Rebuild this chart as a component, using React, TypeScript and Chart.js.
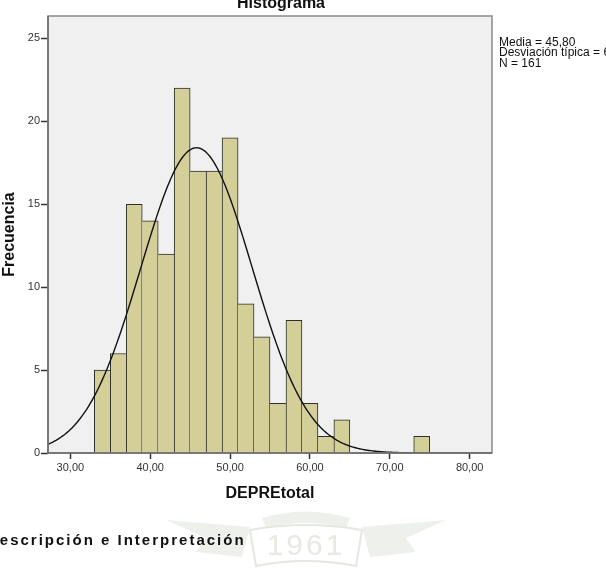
import React, { useEffect, useRef } from "react";
import { Chart, registerables } from "chart.js";

Chart.register(...registerables);

// Histogram of DEPREtotal: bin starts (width 2) and their frequencies
const BIN_STARTS = [33, 35, 37, 39, 41, 43, 45, 47, 49, 51, 53, 55, 57, 59, 61, 63, 73];
const BIN_COUNTS = [5, 6, 15, 14, 12, 22, 17, 17, 19, 9, 7, 3, 8, 3, 1, 2, 1];
const BIN_WIDTH = 2;

// Axis ticks
const X_TICKS = [30, 40, 50, 60, 70, 80];
const Y_TICKS = [0, 5, 10, 15, 20, 25];

// Summary statistics used for the fitted normal curve
const MEAN = 45.8;
const STD_DEV = 6.98;
const N_CASES = 161;
const STATS_LINES = ["Media = 45,80", "Desviación típica = 6,98", "N = 161"];

const TITLE = "Histograma";
const X_TITLE = "DEPREtotal";
const Y_TITLE = "Frecuencia";
const FOOTER_TEXT = "Descripción e Interpretación";
const SEAL_YEAR = "1961";

const FONT = 'Arial, "Liberation Sans", sans-serif';
const X_MIN = 27.2;
const X_MAX = 82.8;
const Y_MAX = 26.35;

const BAR_FILL = "#d4cf98";
const BAR_EDGE = "#2e2e2a";
const PLOT_BG = "#f0f0f0";

function normalCurve(): { x: number; y: number }[] {
  const pts: { x: number; y: number }[] = [];
  const scale = (N_CASES * BIN_WIDTH) / (STD_DEV * Math.sqrt(2 * Math.PI));
  for (let x = X_MIN; x <= X_MAX + 1e-9; x += 0.2) {
    const z = (x - MEAN) / STD_DEV;
    pts.push({ x, y: scale * Math.exp(-0.5 * z * z) });
  }
  return pts;
}

function drawSeal(ctx: CanvasRenderingContext2D) {
  ctx.save();
  ctx.fillStyle = "#eef1eb";
  // ribbon wings
  ctx.beginPath();
  ctx.moveTo(166, 520);
  ctx.lineTo(250, 527);
  ctx.lineTo(242, 557);
  ctx.lineTo(196, 552);
  ctx.lineTo(206, 538);
  ctx.closePath();
  ctx.fill();
  ctx.beginPath();
  ctx.moveTo(446, 520);
  ctx.lineTo(362, 527);
  ctx.lineTo(370, 557);
  ctx.lineTo(416, 552);
  ctx.lineTo(406, 538);
  ctx.closePath();
  ctx.fill();
  // upper arc
  ctx.beginPath();
  ctx.moveTo(262, 518);
  ctx.quadraticCurveTo(306, 505, 350, 518);
  ctx.lineTo(346, 528);
  ctx.quadraticCurveTo(306, 518, 266, 528);
  ctx.closePath();
  ctx.fill();
  // central band
  ctx.strokeStyle = "#e4e8e0";
  ctx.lineWidth = 2;
  ctx.beginPath();
  ctx.moveTo(250, 530);
  ctx.quadraticCurveTo(306, 520, 362, 530);
  ctx.lineTo(356, 566);
  ctx.quadraticCurveTo(306, 556, 256, 566);
  ctx.closePath();
  ctx.stroke();
  ctx.font = `30px ${FONT}`;
  ctx.textAlign = "center";
  ctx.textBaseline = "middle";
  ctx.fillStyle = "#e6eae2";
  (ctx as any).letterSpacing = "3px";
  ctx.fillText(SEAL_YEAR, 306, 547);
  ctx.restore();
}

const decorPlugin = {
  id: "decor",
  beforeDraw(chart: Chart) {
    const { ctx, chartArea: a, width, height } = chart;
    ctx.save();
    ctx.fillStyle = "#ffffff";
    ctx.fillRect(0, 0, width, height);
    drawSeal(ctx);
    ctx.fillStyle = PLOT_BG;
    ctx.fillRect(a.left, a.top, a.right - a.left, a.bottom - a.top);
    ctx.restore();
  },
  afterDraw(chart: Chart) {
    const { ctx, chartArea: a } = chart;
    ctx.save();
    // plot frame
    ctx.strokeStyle = "#8a8a8a";
    ctx.lineWidth = 1.5;
    ctx.strokeRect(a.left, a.top, a.right - a.left, a.bottom - a.top);
    ctx.strokeStyle = "#6a6a6a";
    ctx.beginPath();
    ctx.moveTo(a.left, a.top);
    ctx.lineTo(a.left, a.bottom);
    ctx.lineTo(a.right, a.bottom);
    ctx.stroke();

    // chart title
    ctx.fillStyle = "#111";
    ctx.font = `bold 16px ${FONT}`;
    ctx.textAlign = "center";
    ctx.textBaseline = "alphabetic";
    ctx.fillText(TITLE, 281, 8);

    // statistics box text
    ctx.font = `12px ${FONT}`;
    ctx.textAlign = "left";
    ctx.textBaseline = "middle";
    STATS_LINES.forEach((line, i) => ctx.fillText(line, 499, 42.5 + i * 10.5));

    // section heading below the chart
    ctx.font = `bold 15px ${FONT}`;
    (ctx as any).letterSpacing = "2px";
    ctx.textBaseline = "alphabetic";
    ctx.fillText(FOOTER_TEXT, -13, 545);
    ctx.restore();
  },
};

export default function App() {
  const ref = useRef<HTMLCanvasElement>(null);

  useEffect(() => {
    const canvas = ref.current;
    if (!canvas) return;
    Chart.defaults.font.family = FONT;

    const bars = BIN_STARTS.map((s, i) => ({ x: s + BIN_WIDTH / 2, y: BIN_COUNTS[i] }));
    const neighbour = (i: number, d: number) => {
      const j = i + d;
      if (j < 0 || j >= BIN_STARTS.length) return null;
      if (Math.abs(BIN_STARTS[j] - BIN_STARTS[i]) !== BIN_WIDTH) return null;
      return BIN_COUNTS[j];
    };

    const chart = new Chart(canvas, {
      type: "bar",
      data: {
        datasets: [
          {
            type: "line",
            data: normalCurve(),
            borderColor: "#111",
            borderWidth: 1.4,
            pointRadius: 0,
            tension: 0,
            fill: false,
            order: 0,
          } as any,
          {
            type: "bar",
            data: bars,
            backgroundColor: BAR_FILL,
            borderColor: BAR_EDGE,
            borderWidth: (c: any) => {
              const i = c.dataIndex;
              const v = BIN_COUNTS[i];
              const prev = neighbour(i, -1);
              const next = neighbour(i, 1);
              return {
                left: prev === null || prev <= v ? 1 : 0,
                right: next === null || next < v ? 1 : 0,
                top: 1,
                bottom: 0,
              };
            },
            barPercentage: 1,
            categoryPercentage: 1,
            order: 1,
          } as any,
        ],
      },
      options: {
        responsive: false,
        animation: false,
        devicePixelRatio: 1,
        layout: { padding: { top: 16, right: 114, bottom: 0, left: 0 } },
        plugins: {
          legend: { display: false },
          tooltip: { enabled: false },
          title: { display: false },
        },
        scales: {
          x: {
            type: "linear",
            min: X_MIN,
            max: X_MAX,
            offset: false,
            grid: {
              offset: false,
              drawOnChartArea: false,
              drawTicks: true,
              tickLength: 6,
              tickWidth: 1.5,
              tickColor: "#333",
            },
            border: { display: false },
            afterBuildTicks: (s: any) => {
              s.ticks = X_TICKS.map((v) => ({ value: v }));
            },
            afterFit: (s: any) => {
              s.height = 119;
            },
            ticks: {
              autoSkip: false,
              maxRotation: 0,
              padding: 2,
              color: "#333",
              font: { size: 11, family: FONT },
              callback: (v: any) => Number(v).toFixed(2).replace(".", ","),
            },
            title: {
              display: true,
              text: X_TITLE,
              color: "#111",
              font: { size: 16, weight: "bold", family: FONT },
              padding: { top: 0, bottom: 69 },
            },
          },
          y: {
            type: "linear",
            min: 0,
            max: Y_MAX,
            grid: {
              drawOnChartArea: false,
              drawTicks: true,
              tickLength: 7,
              tickWidth: 1.5,
              tickColor: "#333",
            },
            border: { display: false },
            afterBuildTicks: (s: any) => {
              s.ticks = Y_TICKS.map((v) => ({ value: v }));
            },
            afterFit: (s: any) => {
              s.width = 48;
            },
            ticks: {
              autoSkip: false,
              padding: 1,
              color: "#333",
              font: { size: 11, family: FONT },
              callback: (v: any) => String(v),
            },
            title: {
              display: true,
              text: Y_TITLE,
              color: "#111",
              font: { size: 16, weight: "bold", family: FONT },
              padding: { top: 0, bottom: 0 },
            },
          },
        },
      },
      plugins: [decorPlugin],
    });

    return () => chart.destroy();
  }, []);

  return (
    <div style={{ position: "absolute", left: 0, top: 0, width: 606, height: 572, background: "#fff" }}>
      <canvas ref={ref} width={606} height={572} style={{ display: "block", width: 606, height: 572 }} />
    </div>
  );
}
